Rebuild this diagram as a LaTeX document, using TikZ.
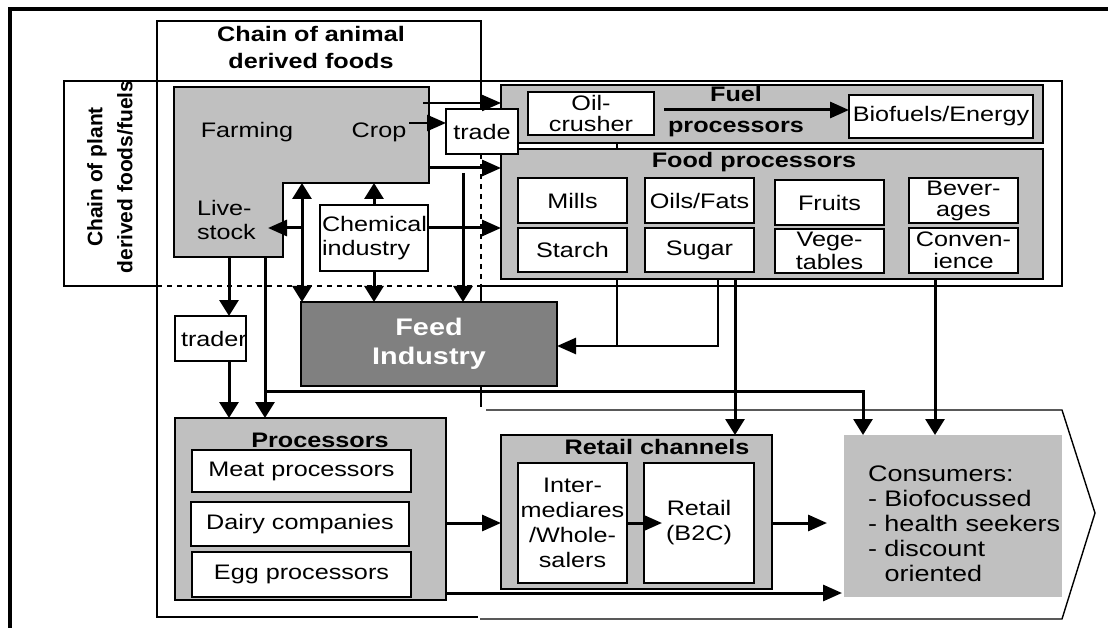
\documentclass[tikz,border=0pt]{standalone}
\usepackage{fontspec}
\setmainfont{Liberation Sans}[FakeStretch=1.2]
\newfontfamily\rotfont{Liberation Sans}
\usetikzlibrary{arrows.meta}
\definecolor{lgray}{RGB}{192,192,192}
\definecolor{dgray}{RGB}{128,128,128}
\newcommand\bx[7]{\pgfmathsetmacro\bxw{#5-#3}\pgfmathsetmacro\bxh{#6-#4}%
  \node[#1, minimum width=\bxw pt, minimum height=\bxh pt, text width=\bxw pt, align=center] (#2) at ({(#3+#5)/2},{(#4+#6)/2}) {#7};}
\begin{document}
\begin{tikzpicture}[x=1pt,y=-1pt,
  every node/.style={font=\fontsize{21}{24}\selectfont, inner sep=0pt, outer sep=0pt},
  thinline/.style={line width=1.4pt},
  graybox/.style={draw=black, line width=1.8pt, fill=lgray},
  whitebox/.style={draw=black, line width=1.8pt, fill=white},
  hdr/.style={font=\bfseries\fontsize{21}{24}\selectfont},
  harr/.style={line width=3pt, -{Triangle[length=19pt,width=16pt]}},
  varr/.style={line width=3pt, -{Triangle[length=16pt,width=19pt]}},
  midline/.style={line width=2.4pt},
  midarr/.style={line width=2.6pt, -{Triangle[length=19pt,width=16pt]}}
]
\useasboundingbox (0,0) rectangle (1108,628);
\fill[white] (0,0) rectangle (1108,628);
% outer frame
\draw[line width=4pt] (1108,9.5) -- (9.5,9.5) -- (9.5,628);

% plant chain box
\draw[thinline] (157,286) -- (64,286) -- (64,81) -- (1062,81) -- (1062,286) -- (481,286);
\draw[thinline, dash pattern=on 5pt off 5pt] (157,286) -- (481,286);
% animal chain box
\draw[thinline] (481,109) -- (481,21) -- (157,21) -- (157,617) -- (478,617);
\draw[thinline, dash pattern=on 5pt off 5pt] (481,154) -- (481,286);
\draw[thinline] (481,286) -- (481,407);
% consumer chevron
\draw[thinline] (486,410) -- (1062,410) -- (1095,513) -- (1062,619) -- (480,619);

% titles
\node[font=\bfseries\fontsize{21}{27}\selectfont, align=center] (animalT) at (311,47) {Chain of animal\\derived foods};
\node[font=\rotfont\bfseries\fontsize{21}{30}\selectfont, align=center, rotate=90] (plantT) at (110,177) {Chain of plant\\derived foods/fuels};

% farming L-shape
\path[graybox] (174,87) coordinate (farmTL) -- (429,87) -- (429,183) -- (283,183) -- (283,257) -- (174,257) -- cycle;
\node (farmingLbl) at (247,132) {Farming};
\node (cropLbl) at (379,132) {Crop};
\node[anchor=west, align=left] (liveLbl) at (197,220) {Live-\\stock};

% line from oil crusher down (behind food processors)
\coordinate (oc) at (617,135);
\coordinate (oc2) at (617,346);
\draw[midline] (oc) -- (oc2);

% fuel and food processors
\bx{graybox}{fuel}{501}{85}{1043}{143}{}
\bx{graybox}{food}{501}{149}{1043}{279}{}
\draw[midline] (617,143) -- (617,149);
\bx{whitebox, font=\fontsize{21}{21}\selectfont}{oil}{528}{92}{654}{135}{Oil-\\crusher}
\node[hdr, font=\bfseries\fontsize{21}{31}\selectfont, align=center] (fuelT) at (736,112) {Fuel\\processors};
\bx{whitebox}{bio}{849}{95}{1033}{138}{Biofuels/Energy}
\node[hdr] (foodT) at (754,162) {Food processors};
\bx{whitebox}{mills}{518}{178}{627}{223}{Mills}
\bx{whitebox}{oilsfats}{645}{178}{754}{223}{Oils/Fats}
\bx{whitebox}{fruits}{775}{180}{884}{225}{Fruits}
\bx{whitebox, font=\fontsize{21}{21}\selectfont}{bev}{909}{178}{1018}{223}{Bever-\\ages}
\bx{whitebox}{starch}{518}{228}{627}{272}{Starch}
\bx{whitebox}{sugar}{645}{228}{754}{272}{Sugar}
\bx{whitebox, font=\fontsize{21}{23}\selectfont}{veg}{775}{229}{884}{273}{Vege-\\tables}
\bx{whitebox, font=\fontsize{21}{22}\selectfont}{conv}{909}{228}{1018}{273}{Conven-\\ience}

% trade, chemical, trader, feed
\bx{whitebox}{trade}{446}{109}{518}{154}{trade}
\node[whitebox, minimum width=108pt, minimum height=66pt, text width=104pt, align=left] (chem) at (374,238) {Chemical\\industry};
\bx{whitebox}{trader}{175}{316}{246}{361}{\hspace*{6pt}trader}
\bx{draw=black, line width=1.8pt, fill=dgray, text=white, font=\bfseries\fontsize{24}{29}\selectfont}{feed}{301}{302}{557}{386}{Feed\\Industry}

% processors
\bx{graybox}{proc}{175}{418}{446}{600}{}
\node[hdr] (procT) at (320,440) {Processors};
\bx{whitebox}{meat}{192}{450}{411}{492}{Meat processors}
\bx{whitebox}{dairy}{191}{502}{409}{546}{Dairy companies}
\bx{whitebox}{egg}{192}{552}{411}{597}{Egg processors}

% retail channels
\bx{graybox}{retch}{501}{435}{772}{589}{}
\node[hdr] (retchT) at (657,447) {Retail channels};
\bx{whitebox, font=\fontsize{21}{25}\selectfont}{inter}{518}{463}{627}{583}{Inter-\\mediares\\/Whole-\\salers}
\bx{whitebox, font=\fontsize{21}{25}\selectfont}{b2c}{644}{463}{754}{583}{Retail\\(B2C)}

% consumers
\bx{fill=lgray}{cons}{844}{435}{1062}{597}{}
\node[anchor=west, align=left, font=\fontsize{22.5}{25}\selectfont] (consT) at (868,524) {Consumers:\\- Biofocussed\\- health seekers\\- discount\\\phantom{-\ }oriented};

% coordinates
\coordinate (fA) at (423,103);
\coordinate (fB) at (409,123);
\coordinate (fC) at (429,168);
\coordinate (farmBot1) at (302,183);
\coordinate (farmBot2) at (374,183);
\coordinate (j228) at (302,228);
\coordinate (lsR) at (268,228);
\coordinate (v463) at (463,173);
\coordinate (ls1) at (229,257);
\coordinate (ls2) at (265,257);
\coordinate (br) at (265,391);
\coordinate (br2) at (863,391);
\coordinate (sg1) at (718,279);
\coordinate (sg1b) at (718,346);
\coordinate (sg2) at (735,279);
\coordinate (fp3) at (935,279);
\coordinate (pr1) at (446,523);
\coordinate (b2cTip) at (662,523);
\coordinate (consL) at (827,523);
\coordinate (pb) at (446,593);
\coordinate (pbT) at (842,593);
\coordinate (fu1) at (664,110);

% arrows
\draw[harr, line width=2.2pt] (fA) -- (fA -| fuel.west);
\draw[harr, line width=2.4pt] (fB) -- (fB -| trade.west);
\draw[harr] (fC) -- (fC -| food.west);
\draw[harr] (fu1) -- (fu1 -| bio.west);
\draw[varr] (chem.north) -- (farmBot2);
\draw[line width=3pt, {Triangle[length=16pt,width=19pt]}-{Triangle[length=16pt,width=19pt]}] (farmBot1) -- (farmBot1 |- feed.north);
\draw[harr] (j228) -- (lsR);
\draw[harr] (chem.east |- j228) -- (j228 -| food.west);
\draw[varr] (chem.south) -- (chem.south |- feed.north);
\draw[varr] (v463) -- (v463 |- feed.north);
\draw[varr] (ls1) -- (ls1 |- trader.north);
\draw[varr] (ls1 |- trader.south) -- (ls1 |- proc.north);
\draw[varr] (ls2) -- (ls2 |- proc.north);
\draw[varr] (br) -- (br2) -- (br2 |- cons.north);
\draw[midarr] (sg1) -- (sg1b) -- (sg1b -| feed.east);
\draw[varr] (sg2) -- (sg2 |- retch.north);
\draw[varr] (fp3) -- (fp3 |- cons.north);
\draw[harr] (pr1) -- (pr1 -| retch.west);
\draw[harr] (inter.east) -- (b2cTip);
\draw[harr] (retch.east |- pr1) -- (consL);
\draw[harr] (pb) -- (pbT);
\end{tikzpicture}
\end{document}
